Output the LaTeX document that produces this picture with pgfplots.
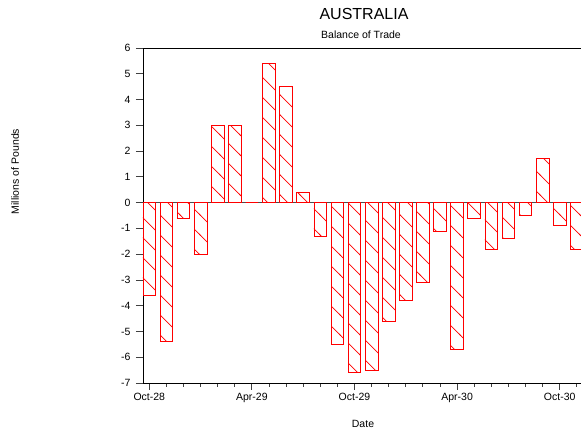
\documentclass[border=0pt]{standalone}
\usepackage{fontspec}
\setmainfont{Liberation Sans}
\usepackage{pgfplots}
\pgfplotsset{compat=1.18}
\usetikzlibrary{patterns.meta}
\tikzdeclarepattern{
  name=sparsenw,
  type=uncolored,
  bounding box={(-1pt,-1pt) and (21pt,21pt)},
  tile size={(20pt,20pt)},
  code={\draw[line width=0.7pt] (-1pt,21pt) -- (21pt,-1pt);}
}
\begin{document}
\begin{tikzpicture}[x=1pt,y=1pt]
\path[use as bounding box] (-143,-52) rectangle (438,383);
\begin{axis}[
  at={(0,0)}, anchor=south west,
  scale only axis, width=438pt, height=335pt,
  xmin=-0.368, xmax=25.246, ymin=-7, ymax=6,
  axis y line*=left,
  xtick pos=bottom, ytick pos=left,
  tick align=outside,
  xtick={0,6,12,18,24},
  xticklabels={Oct-28,Apr-29,Oct-29,Apr-30,Oct-30},
  minor xtick={1,2,3,4,5,7,8,9,10,11,13,14,15,16,17,19,20,21,22,23,25},
  ytick={-7,-6,...,6},
  major tick length=7pt, minor tick length=4pt,
  tick style={black!75, line width=0.8pt},
  axis line style={black, line width=0.8pt},
  /pgf/number format/assume math mode=true,
  ticklabel style={font=\fontsize{10.5}{12}\selectfont},
  yticklabel style={xshift=-2pt},
  clip=true,
]
\addplot[black!70, line width=0.8pt, forget plot] coordinates {(-0.368,0) (25.246,0)};
\addplot[ybar, bar width=12.7pt, draw=red, line width=0.8pt, pattern=sparsenw, pattern color=red] coordinates {
(0,-3.6) (1,-5.4) (2,-0.6) (3,-2.0) (4,3.0) (5,3.0) (6,0) (7,5.4) (8,4.5) (9,0.4)
(10,-1.3) (11,-5.5) (12,-6.6) (13,-6.5) (14,-4.6) (15,-3.8) (16,-3.1) (17,-1.1)
(18,-5.7) (19,-0.6) (20,-1.8) (21,-1.4) (22,-0.5) (23,1.7) (24,-0.9) (25,-1.8)
};
\end{axis}
\node[font=\fontsize{16}{18}\selectfont] at (221,369) {AUSTRALIA};
\node[font=\fontsize{10.5}{12}\selectfont] at (218,348) {Balance of Trade};
\node[font=\fontsize{10.5}{12}\selectfont, rotate=90] at (-128,211.5) {Millions of Pounds};
\node[font=\fontsize{10.5}{12}\selectfont] at (220,-41) {Date};
\end{tikzpicture}
\end{document}
